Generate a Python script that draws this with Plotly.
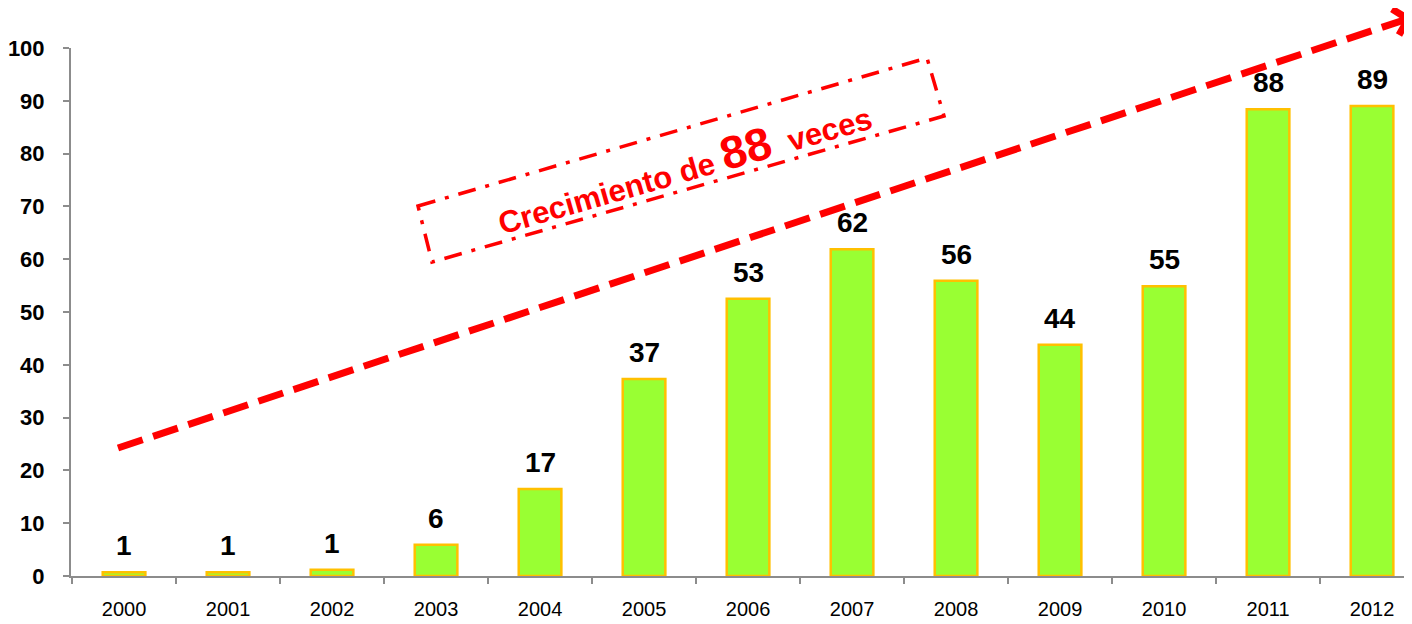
import plotly.graph_objects as go

# ---- data ----
years = ["2000", "2001", "2002", "2003", "2004", "2005", "2006",
         "2007", "2008", "2009", "2010", "2011", "2012"]
values = [0.7, 0.7, 1.2, 5.9, 16.5, 37.3, 52.5, 61.9, 55.9, 43.8, 54.9, 88.4, 89.0]
labels = ["1", "1", "1", "6", "17", "37", "53", "62", "56", "44", "55", "88", "89"]
y_ticks = [0, 10, 20, 30, 40, 50, 60, 70, 80, 90, 100]

# page body has an 8px margin: draw the figure 8px smaller and shift coordinates
OFF = 8
W, H = 1412 - OFF, 624 - OFF
L, T, R = 71 - OFF, 48 - OFF, 0
B = H - (576 - OFF)
PW, PH = W - L - R, H - T - B


def px(x):
    """reference pixel x -> paper x"""
    return (x - OFF - L) / PW


def py(y):
    """reference pixel y -> paper y"""
    return (H - B - (y - OFF)) / PH


fig = go.Figure()
fig.add_trace(go.Bar(
    x=years, y=values, width=0.41,
    marker=dict(color="#99FF33", line=dict(color="#FFC000", width=2.5)),
    hoverinfo="skip",
))

annotations = []
for i, (v, lab) in enumerate(zip(values, labels)):
    annotations.append(dict(
        x=i, y=v, xref="x", yref="y", text=f"<b>{lab}</b>", showarrow=False,
        xanchor="center", yanchor="bottom", yshift=9,
        font=dict(family="Liberation Sans, Arial", size=28, color="#000000"),
    ))

annotations.append(dict(
    x=px(683), y=py(166), xref="paper", yref="paper", showarrow=False,
    xanchor="center", yanchor="middle",
    textangle=-16,
    text=("<b>Crecimiento de <span style='font-size:46px'>88</span>  veces</b>"),
    font=dict(family="Liberation Sans, Arial", size=31, color="#FF0000"),
))

shapes = []
# dashed trend arrow
shapes.append(dict(
    type="line", xref="paper", yref="paper",
    x0=px(118), y0=py(448), x1=px(1404), y1=py(20),
    line=dict(color="#FF0000", width=7, dash="26px,11px"),
))
shapes.append(dict(
    type="path", xref="paper", yref="paper",
    path=f"M {px(1392)},{py(9)} L {px(1408)},{py(19)} L {px(1399)},{py(35)}",
    line=dict(color="#FF0000", width=7),
))
# dash-dot rotated box
corners = [(418, 206), (927, 58), (944, 116), (432, 262)]
path = "M " + " L ".join(f"{px(a)},{py(b)}" for a, b in corners) + " Z"
shapes.append(dict(
    type="path", xref="paper", yref="paper", path=path,
    line=dict(color="#FF0000", width=3.5, dash="18px,10px,4px,10px"),
    fillcolor="rgba(0,0,0,0)",
))

fig.update_layout(
    width=W, height=H,
    margin=dict(l=L, r=R, t=T, b=B, pad=0),
    paper_bgcolor="white", plot_bgcolor="white",
    showlegend=False,
    annotations=annotations,
    shapes=shapes,
    xaxis=dict(
        type="category", range=[-0.51, -0.51 + PW / 104.0],
        showline=True, linecolor="#8C8C8C", linewidth=2,
        ticks="outside", tickson="boundaries", ticklen=6, tickwidth=2, tickcolor="#8C8C8C",
        showgrid=False, zeroline=False,
        tickfont=dict(family="Liberation Sans, Arial", size=20, color="#000000"),
        ticklabelstandoff=14,
    ),
    yaxis=dict(
        range=[0, 100], tickvals=y_ticks,
        showline=True, linecolor="#8C8C8C", linewidth=2,
        ticks="outside", ticklen=6, tickwidth=2, tickcolor="#8C8C8C",
        showgrid=False, zeroline=False,
        tickfont=dict(family="Liberation Sans, Arial", size=22, color="#000000", weight="bold"),
        ticklabelstandoff=14,
    ),
)

fig.write_html("out.html")
